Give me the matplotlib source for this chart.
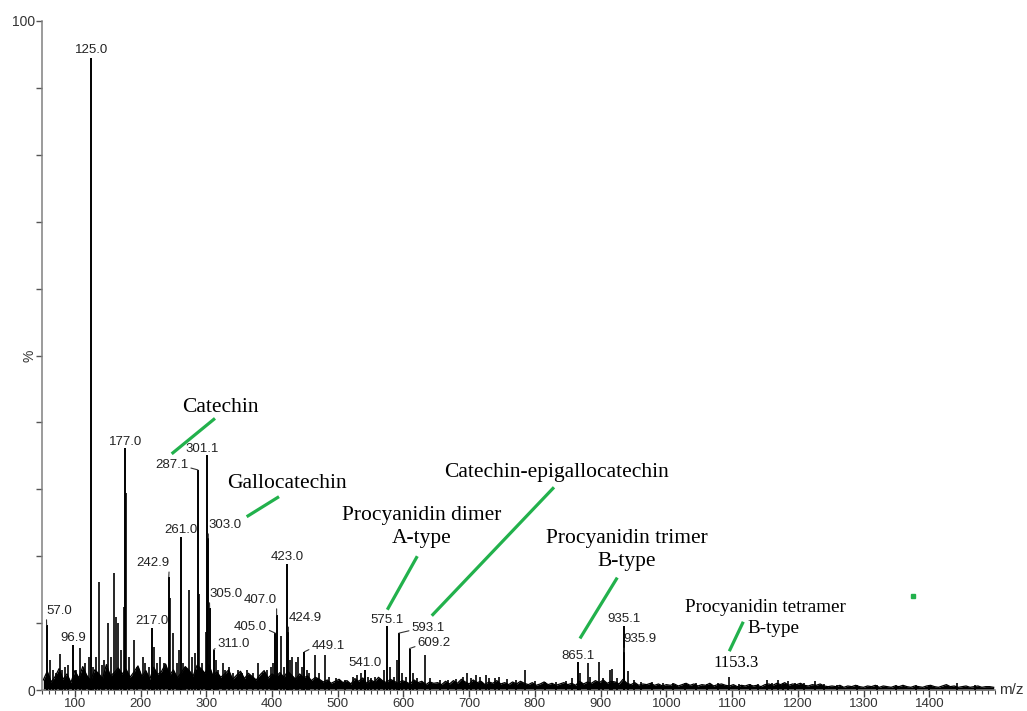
import numpy as np
import matplotlib
matplotlib.use("Agg")
import matplotlib.pyplot as plt
from matplotlib.ticker import MultipleLocator, FixedLocator, FuncFormatter

# ---------------- data ----------------
label_mz = [57.0, 96.9, 125.0, 177.0, 217.0, 242.9, 261.0, 287.1, 301.1, 303.0,
            305.0, 311.0, 405.0, 407.0, 423.0, 424.9, 449.1, 541.0, 575.1, 593.1,
            609.2, 865.1, 935.1, 935.9]
label_int = [9.7, 6.7, 94.5, 36.1, 9.3, 16.9, 22.9, 32.9, 35.1, 22.7,
             12.3, 6.0, 8.5, 11.2, 18.8, 8.7, 5.7, 3.0, 9.5, 8.5,
             6.2, 4.2, 9.5, 5.7]
label_txt = ["57.0", "96.9", "125.0", "177.0", "217.0", "242.9", "261.0", "287.1",
             "301.1", "303.0", "305.0", "311.0", "405.0", "407.0", "423.0", "424.9",
             "449.1", "541.0", "575.1", "593.1", "609.2", "865.1", "935.1", "935.9"]

minor_mz = [62, 66, 71, 78, 81, 85, 89, 101, 108, 113, 116, 121, 127, 132, 137, 141,
            145, 150, 155, 160, 163, 166, 170, 175, 178.5, 183, 190, 195, 203, 207,
            213, 220, 225, 229, 235, 244.5, 249, 255, 259, 265, 268, 274, 278, 283,
            289, 293, 299.5, 315, 318, 325, 329, 335, 341, 348, 355, 362, 371, 379,
            386, 392, 398, 402, 413, 418, 427, 431, 436, 440, 445, 453, 457, 465.5,
            471, 480.7, 487, 497, 511, 523, 530, 535, 546, 551, 557, 563, 571, 579,
            585, 590, 597, 604, 614, 621, 633, 641, 655, 668, 680, 690, 696, 703,
            711, 716, 725, 730, 740, 746, 757, 771, 785, 800, 815, 832, 848, 857,
            869, 880, 884, 897, 904, 914.5, 918, 925, 942, 950, 962, 978, 995, 1010,
            1028, 1045, 1062, 1078, 1094.6, 1110, 1127, 1140, 1153.5, 1160, 1170,
            1178, 1185, 1196, 1210, 1226, 1240, 1260, 1290, 1320, 1350, 1380, 1400,
            1442, 1470]
minor_int = [4.5, 3.0, 2.5, 5.4, 3.0, 3.5, 3.7, 3.0, 6.3, 3.0, 4.0, 5.0, 3.5, 5.0, 16.1, 3.8,
             4.5, 10.0, 5.0, 17.5, 10.9, 10.0, 6.0, 12.4, 29.4, 5.0, 7.5, 3.5, 5.0, 4.0,
             3.5, 6.5, 4.0, 5.0, 4.0, 13.7, 8.5, 4.0, 6.0, 4.0, 3.5, 15.0, 5.0, 5.5,
             14.4, 4.0, 8.7, 4.5, 3.0, 4.0, 3.0, 3.5, 2.5, 3.0, 2.5, 3.0, 2.5, 4.0,
             2.5, 3.0, 3.5, 4.0, 8.0, 3.5, 4.5, 5.0, 4.2, 5.0, 3.5, 3.0, 2.5, 5.2,
             2.5, 5.2, 2.0, 1.8, 1.5, 2.0, 2.2, 2.5, 2.0, 1.8, 2.0, 1.6, 3.0, 3.5,
             2.0, 4.5, 2.5, 2.0, 2.5, 1.8, 5.2, 1.8, 1.5, 1.5, 1.6, 2.0, 2.5, 1.8,
             2.3, 2.0, 2.2, 1.8, 1.8, 2.0, 1.6, 1.5, 3.0, 1.4, 1.2, 1.2, 1.3, 1.8,
             2.5, 4.0, 2.0, 4.2, 1.8, 3.0, 3.2, 1.8, 2.8, 1.5, 1.2, 1.2, 1.0, 1.0,
             1.0, 1.1, 0.9, 1.0, 1.9, 0.9, 0.9, 0.9, 1.5, 1.0, 1.5,
             1.0, 1.3, 1.0, 1.1, 1.4, 0.9, 0.7, 0.8, 0.7, 0.7, 0.8, 0.7,
             1.0, 0.7]

noise_start, noise_step = 52, 6
noise_int = [1.5, 2.8, 1.2, 2.0, 3.2, 1.6, 2.4, 1.1, 2.9, 1.8, 3.5, 2.2, 1.4, 3.0, 2.5, 1.7, 3.8, 2.1, 2.6, 3.3,
             2.4, 3.1, 1.9, 2.7, 3.6, 2.0, 2.9, 1.6, 3.4, 2.3, 2.8, 3.9, 2.2, 3.0, 1.8, 2.6, 3.5, 2.9, 2.1, 3.7,
             3.2, 2.5, 3.8, 2.1, 2.7, 1.9, 2.4, 3.0, 1.6, 2.2, 2.8, 1.7, 2.5, 2.0, 1.5, 2.3, 2.9, 1.8, 2.4, 2.0,
             2.6, 1.9, 2.8, 2.2, 1.6, 2.4, 1.8, 2.1, 1.4, 1.9, 1.6, 1.2, 1.5, 1.0, 1.3, 1.6, 1.1, 1.4, 0.9, 1.7,
             1.3, 1.8, 1.0, 1.5, 1.2, 1.9, 1.4, 1.1, 1.6, 1.3, 1.0, 1.4, 1.2, 0.9, 1.5, 1.1, 1.3, 0.8, 1.2, 1.0,
             1.1, 0.8, 1.3, 0.9, 1.4, 1.0, 1.6, 1.2, 0.9, 1.5, 1.1, 1.3, 0.8, 1.2, 1.0, 1.4, 0.9, 1.1, 0.8, 1.2,
             0.9, 1.3, 1.0, 0.8, 1.1, 0.7, 0.9, 1.2, 0.8, 1.0, 0.7, 0.9, 1.1, 0.8, 1.0, 0.7, 1.3, 0.9, 1.2, 1.0,
             1.4, 1.1, 1.5, 1.0, 1.3, 1.2, 0.9, 1.6, 1.0, 0.8, 1.1, 0.7, 0.9, 0.8, 1.0, 0.7, 0.9, 0.6, 0.8, 0.7,
             0.9, 0.6, 0.8, 1.0, 0.7, 0.9, 0.6, 0.8, 0.7, 1.0, 0.6, 0.8, 0.9, 0.7, 0.6, 0.8, 0.5, 0.7, 0.6, 0.8,
             0.6, 0.7, 0.5, 0.8, 0.9, 0.7, 1.0, 0.8, 1.1, 0.7, 0.9, 0.8, 1.0, 0.7, 0.6, 0.8, 0.7, 0.9, 0.6, 0.5,
             0.6, 0.5, 0.7, 0.4, 0.6, 0.5, 0.7, 0.5, 0.4, 0.6, 0.5, 0.7, 0.4, 0.6, 0.5, 0.4, 0.6, 0.5, 0.7, 0.5,
             0.4, 0.6, 0.5, 0.4, 0.6, 0.7, 0.5, 0.4, 0.6, 0.8, 0.5, 0.6, 0.4, 0.5, 0.6, 0.4, 0.5, 0.6, 0.4, 0.5,
             0.5, 0.4]

x_ticks = list(range(100, 1500, 100))
y_ticks = list(range(0, 101, 10))
y_tick_text = {0: "0", 100: "100"}

compound_names = ["Catechin", "Gallocatechin", "Procyanidin dimer\nA-type",
                  "Catechin-epigallocatechin", "Procyanidin trimer\nB-type",
                  "Procyanidin tetramer"]

# ---------------- layout / style ----------------
# label offset from peak top in pixels (dx, dy) and whether a leader is drawn
label_layout = {
    "57.0": (12.7, 14.1, True), "96.9": (0, 7, False), "125.0": (0, 7.8, False),
    "177.0": (0, 6.5, False), "217.0": (0, 7, False), "242.9": (-16, 13.7, True),
    "261.0": (0, 7, False), "287.1": (-26.3, 5, True), "301.1": (-5, 6, False),
    "303.0": (16.7, 13, True), "305.0": (16.4, 13.7, True), "311.0": (20.5, 6, True),
    "405.0": (-25.3, 6.4, True), "407.0": (-16.6, 15, True), "423.0": (0, 7.5, False),
    "424.9": (16.6, 13.5, True), "449.1": (24, 6, True), "541.0": (0, 6.7, False),
    "575.1": (0, 6.7, False), "593.1": (29.4, 5.4, True), "609.2": (24.8, 5.2, True),
    "865.1": (0, 5.5, False), "935.1": (0, 7.4, False), "935.9": (15.8, 12.6, True),
}

GREEN = "#22b14c"
SANS = ["Liberation Sans", "DejaVu Sans"]
SERIF = ["Liberation Serif", "DejaVu Serif"]
BIG = 15.5

fig = plt.figure(figsize=(10.27, 7.11), dpi=100)
ax = fig.add_axes([42 / 1027, 21 / 711, 953 / 1027, 669 / 711])
ax.set_xlim(50, 1500)
ax.set_ylim(0, 100)

# noise band
noise_mz = noise_start + noise_step * np.arange(len(noise_int))
ax.fill_between(noise_mz, 0, noise_int, color="black", lw=0, zorder=2)
ax.plot(noise_mz, noise_int, color="black", lw=0.9, zorder=2)

# peaks
ax.vlines(minor_mz, 0, minor_int, color="black", lw=1.2, zorder=3)
ax.vlines(label_mz, 0, label_int, color="black", lw=1.4, zorder=3)

# peak labels
for mz, h, t in zip(label_mz, label_int, label_txt):
    dx, dy, leader = label_layout[t]
    kw = {}
    if leader:
        kw["arrowprops"] = dict(arrowstyle="-", color="#333333", lw=0.8,
                                shrinkA=0, shrinkB=0,
                                relpos=(0.0, 0.3) if dx > 0 else (1.0, 0.3))
    ax.annotate(t, xy=(mz, h), xytext=(dx, dy), textcoords="offset pixels",
                ha="center", va="center", fontsize=9.5, family=SANS,
                color="#222222", zorder=5, **kw)

# compound annotations (green leaders)
ax.text(320.8, 42.3, compound_names[0], ha="center", va="center", fontsize=BIG, family=SERIF)
ax.plot([247.3, 313.2], [35.3, 40.6], color=GREEN, lw=2.3, solid_capstyle="butt")

ax.text(422.3, 30.9, compound_names[1], ha="center", va="center", fontsize=BIG, family=SERIF)
ax.plot([361.4, 410.6], [25.9, 28.9], color=GREEN, lw=2.3, solid_capstyle="butt")

ax.text(628, 24.4, compound_names[2], ha="center", va="center", fontsize=BIG,
        family=SERIF, linespacing=1.3, multialignment="center")
ax.plot([575.4, 621.0], [12.0, 20.0], color=GREEN, lw=2.3, solid_capstyle="butt")

ax.text(833, 32.5, compound_names[3], ha="center", va="center", fontsize=BIG, family=SERIF)
ax.plot([643, 829], [11.1, 30.3], color=GREEN, lw=2.3, solid_capstyle="butt")

ax.text(940, 20.9, compound_names[4], ha="center", va="center", fontsize=BIG,
        family=SERIF, linespacing=1.3, multialignment="center")
ax.plot([868.5, 925.3], [7.7, 16.8], color=GREEN, lw=2.3, solid_capstyle="butt")

ax.text(1150, 12.4, compound_names[5], ha="center", va="center", fontsize=13.8, family=SERIF)
ax.text(1162.6, 9.2, "B-type", ha="center", va="center", fontsize=13.8, family=SERIF)
ax.plot([1095.7, 1117], [5.8, 10.2], color=GREEN, lw=2.3, solid_capstyle="butt")
ax.text(1106, 4.0, "1153.3", ha="center", va="center", fontsize=12, family=SERIF)

ax.plot([1375.6], [14.1], marker="s", ms=3, color=GREEN, lw=0)

# axes styling
for s in ["top", "right"]:
    ax.spines[s].set_visible(False)
for s in ["left", "bottom"]:
    ax.spines[s].set_color("#808080")
    ax.spines[s].set_linewidth(1.1)

ax.xaxis.set_major_locator(FixedLocator(x_ticks))
ax.xaxis.set_minor_locator(MultipleLocator(10))
ax.yaxis.set_major_locator(FixedLocator(y_ticks))
ax.yaxis.set_major_formatter(FuncFormatter(lambda v, p: y_tick_text.get(int(round(v)), "")))
ax.tick_params(axis="x", which="major", length=5, width=1, color="#444444",
               labelsize=9.5, labelcolor="#333333", pad=0.5)
ax.tick_params(axis="x", which="minor", length=3, width=0.8, color="#444444")
ax.tick_params(axis="y", which="major", length=4, width=1, color="#555555",
               labelsize=10, labelcolor="#333333", pad=1)
for lab in ax.get_xticklabels() + ax.get_yticklabels():
    lab.set_family(SANS)

ax.text(1.004, 0.0, "m/z", transform=ax.transAxes, ha="left", va="center",
        fontsize=11, family=SANS, color="#333333")
ax.text(-0.013, 0.5, "%", transform=ax.transAxes, ha="center", va="center",
        rotation=90, fontsize=10, family=SANS, color="#333333")

fig.savefig("out.png", dpi=100)
